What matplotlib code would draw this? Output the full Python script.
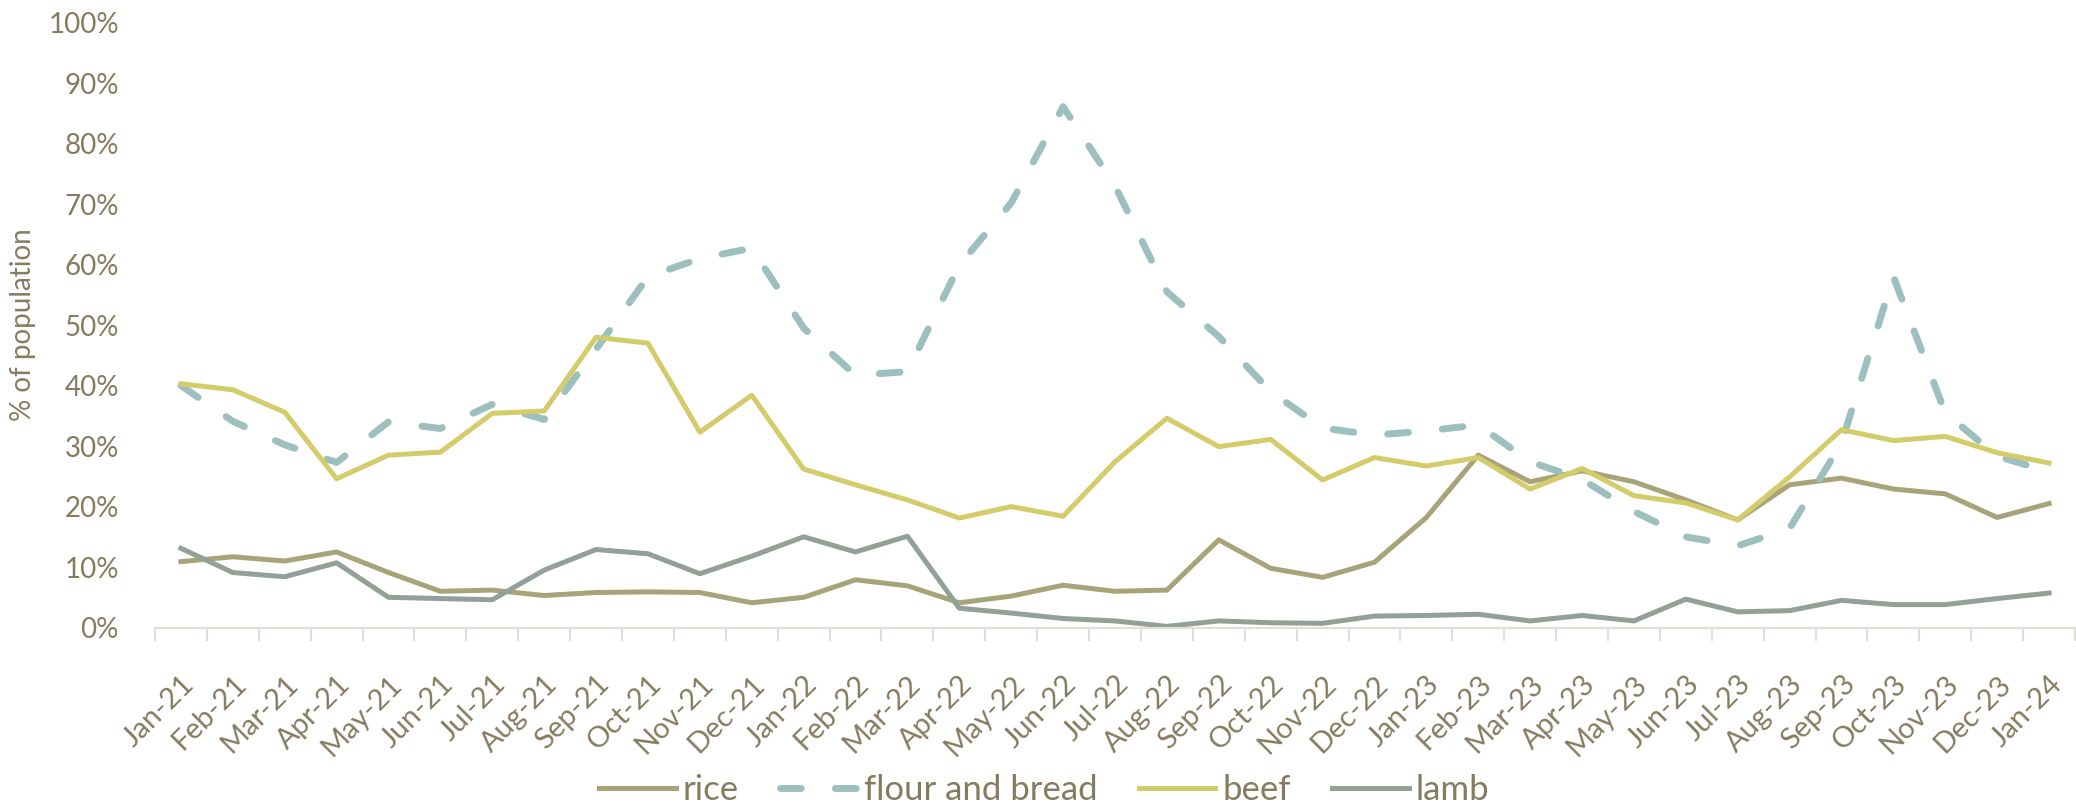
import matplotlib.pyplot as plt
from matplotlib.ticker import PercentFormatter

# monthly share of population (%)
months = ['Jan-21', 'Feb-21', 'Mar-21', 'Apr-21', 'May-21', 'Jun-21', 'Jul-21', 'Aug-21',
          'Sep-21', 'Oct-21', 'Nov-21', 'Dec-21', 'Jan-22', 'Feb-22', 'Mar-22', 'Apr-22',
          'May-22', 'Jun-22', 'Jul-22', 'Aug-22', 'Sep-22', 'Oct-22', 'Nov-22', 'Dec-22',
          'Jan-23', 'Feb-23', 'Mar-23', 'Apr-23', 'May-23', 'Jun-23', 'Jul-23', 'Aug-23',
          'Sep-23', 'Oct-23', 'Nov-23', 'Dec-23', 'Jan-24']

rice = [10.9, 11.7, 11.0, 12.5, 9.1, 6.0, 6.2, 5.3, 5.8, 5.9, 5.8, 4.1, 5.0, 7.9, 6.9, 4.1,
        5.2, 7.0, 6.0, 6.2, 14.5, 9.8, 8.3, 10.8, 18.2, 28.5, 24.1, 25.9, 24.1, 21.1, 17.8,
        23.6, 24.7, 22.9, 22.1, 18.2, 20.5]
flour = [40.0, 34.1, 30.2, 27.3, 34.0, 32.9, 36.9, 34.4, 46.0, 58.0, 61.0, 62.7, 49.5, 41.7,
         42.3, 59.9, 70.2, 86.1, 73.0, 55.5, 48.1, 39.0, 33.0, 31.8, 32.5, 33.5, 27.4, 24.5,
         19.2, 15.0, 13.5, 16.4, 30.5, 58.0, 35.5, 28.3, 25.8]
beef = [40.3, 39.3, 35.6, 24.6, 28.5, 29.0, 35.4, 35.8, 48.0, 47.0, 32.3, 38.4, 26.2, 23.6,
        21.1, 18.1, 20.0, 18.4, 27.4, 34.6, 29.9, 31.1, 24.4, 28.1, 26.7, 28.1, 22.9, 26.3,
        21.8, 20.6, 17.8, 24.9, 32.7, 30.9, 31.6, 28.9, 27.2]
lamb = [13.1, 9.1, 8.4, 10.7, 5.0, 4.8, 4.6, 9.5, 12.9, 12.2, 8.9, 11.8, 15.0, 12.5, 15.1,
        3.2, 2.4, 1.5, 1.1, 0.2, 1.1, 0.8, 0.7, 1.9, 2.0, 2.2, 1.1, 2.0, 1.1, 4.7, 2.6, 2.8,
        4.5, 3.8, 3.8, 4.8, 5.7]

text_col = '#857c5f'
plt.rcParams['font.family'] = ['Lato', 'DejaVu Sans']

fig = plt.figure(figsize=(20.76, 8.05), dpi=100)
ax = fig.add_axes([155 / 2076, 0.2204, 1920 / 2076, 0.972 - 0.2204])

x = range(len(months))
lw = 3.6
ax.plot(x, rice, color='#a8a47a', lw=lw, label='rice')
ax.plot(x, flour, color='#9dc0be', lw=5, label='flour and bread',
        dashes=(3.0, 4.9), dash_capstyle='round')
ax.plot(x, beef, color='#d4cc6b', lw=lw, label='beef')
ax.plot(x, lamb, color='#92a098', lw=lw, label='lamb')

ax.set_xlim(-0.5, len(months) - 0.5)
ax.set_ylim(0, 100)
ax.set_yticks(range(0, 101, 10))
ax.yaxis.set_major_formatter(PercentFormatter(decimals=0))

ax.set_xticks(x)
ax.set_xticklabels(months, rotation=45, ha='right', rotation_mode='anchor')
ax.set_xticks([i - 0.5 for i in range(len(months) + 1)], minor=True)
ax.tick_params(axis='x', which='major', length=0, pad=31, labelsize=21, labelcolor=text_col)
ax.tick_params(axis='x', which='minor', length=9, width=1.5, color='#e2ded6')
ax.tick_params(axis='y', length=0, pad=26, labelsize=20, labelcolor=text_col)

for s in ['top', 'right', 'left']:
    ax.spines[s].set_visible(False)
ax.spines['bottom'].set_color('#e2ded6')
ax.spines['bottom'].set_linewidth(1.5)

ax.set_ylabel('% of population', fontsize=20, color=text_col)
ax.yaxis.set_label_coords(-0.062, 0.5)

fig.legend(loc='lower center', bbox_to_anchor=(0.503, -0.04), ncol=4, frameon=False,
           fontsize=25, labelcolor=text_col, handlelength=2.2, columnspacing=1.2,
           handletextpad=0.2)

fig.savefig('out.png', dpi=100)
